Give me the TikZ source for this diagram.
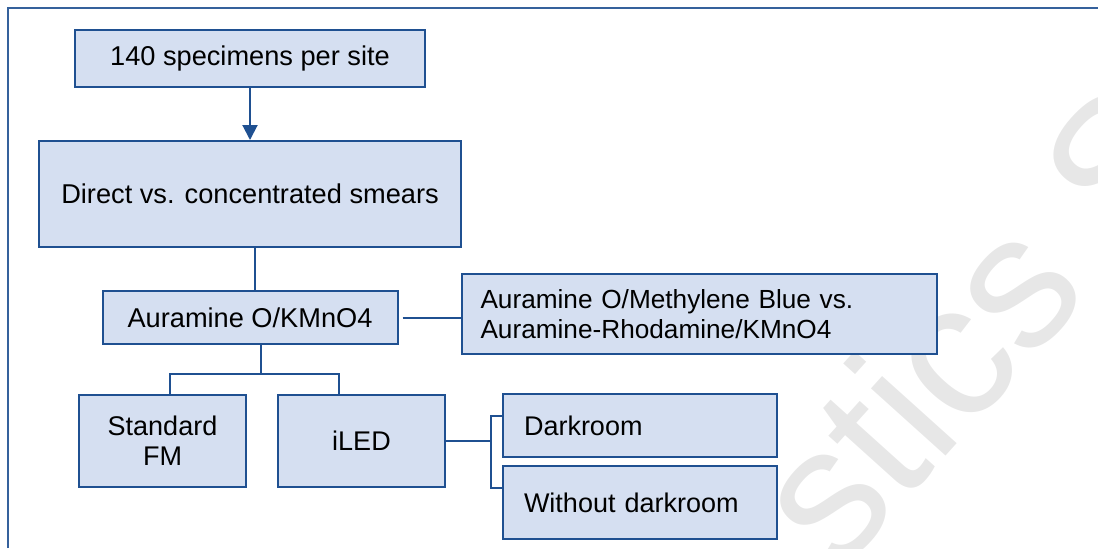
\documentclass[tikz,border=0pt]{standalone}
\usepackage{fontspec}
\setmainfont{Liberation Sans}
\usepackage{xcolor}
\usetikzlibrary{arrows.meta, positioning, calc}
\definecolor{boxBlue}{RGB}{31,80,145}
\definecolor{boxFill}{RGB}{213,223,241}
\definecolor{markGray}{RGB}{231,231,231}
\newcommand{\fs}[2]{\fontsize{#1}{#2}\selectfont}
\tikzset{
    flowbox/.style={
        rectangle,
        draw=boxBlue,
        line width=1pt,
        fill=boxFill,
        align=center,
        inner sep=2pt,
        font=\fs{13.6}{15.3}
    },
    listbox/.style={
        flowbox,
        align=left,
        inner xsep=10pt
    },
    link/.style={draw=boxBlue, line width=1pt},
    flowarrow/.style={link, -{Triangle[length=7.5pt, width=7.5pt]}},
    frameline/.style={draw=boxBlue!90, line width=1pt},
    watermark/.style={text=markGray, font=\fs{95}{95}, rotate=48, anchor=base west, inner sep=0pt}
}

\begin{document}
\begin{tikzpicture}[node distance=26pt and 31pt]
    \useasboundingbox (0,0) rectangle (549pt,-274pt);
    \begin{scope}
        \clip (0,0) rectangle (549pt,-274pt);
        \node[watermark] (mark) at (419pt,-288pt) {stics S};
    \end{scope}
    \draw[frameline] (4pt,-274pt) -- (4pt,-4pt) -- (549pt,-4pt);

    % main column
    \node[flowbox, minimum width=211pt, minimum height=53pt] (smears) at (125pt,-97pt) {Direct vs. concentrated smears};
    \node[flowbox, minimum width=175pt, minimum height=28.5pt, above=26pt of smears] (spec) {140 specimens per site};
    \node[flowbox, minimum width=147.5pt, minimum height=26.5pt, below=21pt of smears] (stain) {Auramine O/KMnO4};
    \node[listbox, text width=218.5pt, inner xsep=9.5pt, minimum height=40pt, font=\fs{13.1}{15.3}, right=31pt of stain, yshift=1.75pt] (compare) {Auramine O/Methylene Blue vs.\\Auramine-Rhodamine/KMnO4};

    % microscopes
    \node[flowbox, minimum width=83.5pt, minimum height=46pt, font=\fs{13.5}{15}] (stdfm) at (81.25pt,-220.5pt) {Standard\\FM};
    \node[flowbox, minimum width=83.5pt, minimum height=46pt, font=\fs{13.5}{15}, right=15pt of stdfm] (iled) {iLED};
    \node[listbox, text width=116pt, inner xsep=10.5pt, minimum height=31.5pt, font=\fs{13.5}{15}] (dark) at (320pt,-212.75pt) {Darkroom};
    \node[listbox, text width=116pt, inner xsep=10.5pt, minimum height=36.5pt, font=\fs{13.5}{15}, below=3.5pt of dark] (nodark) {Without darkroom};

    \draw[flowarrow] (spec.south -| smears.north) -- (smears.north);
    \draw[link] ([xshift=2.5pt]smears.south) -- ([xshift=2.5pt]stain.north);
    \draw[link] ([xshift=2pt]stain.east) -- (stain.east -| compare.west);
    \draw[link] ([xshift=5.25pt]stain.south) -- ++(0,-14.35pt) coordinate (fork);
    \draw[link] ([xshift=3.75pt]stdfm.north) |- (fork) -| ([xshift=-11.5pt]iled.north);
    \draw[link] (iled.east) -- ++(22.5pt,0) coordinate (split);
    \draw[link] ([yshift=4.75pt]dark.west) -| (split) |- ([yshift=7.25pt]nodark.west);
\end{tikzpicture}
\end{document}
